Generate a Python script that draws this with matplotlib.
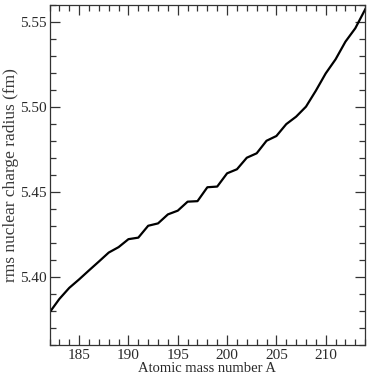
import matplotlib
matplotlib.use("Agg")
import matplotlib.pyplot as plt
from matplotlib.ticker import MultipleLocator

# rms charge radius vs mass number
mass_number = list(range(182, 215))
rms_radius = [5.3790, 5.3870, 5.3935, 5.3985, 5.4038, 5.4090, 5.4143, 5.4175,
              5.4222, 5.4231, 5.4301, 5.4315, 5.4368, 5.4390, 5.4443, 5.4446,
              5.4528, 5.4532, 5.4610, 5.4634, 5.4702, 5.4728, 5.4802, 5.4830,
              5.4900, 5.4944, 5.5003, 5.5097, 5.5199, 5.5282, 5.5386, 5.5465,
              5.5576]

plt.rcParams['font.family'] = ['Liberation Serif', 'DejaVu Serif']
text_col = '#2a2a2a'

fig = plt.figure(figsize=(3.67, 3.83), dpi=100)
ax = fig.add_axes([0.135, 0.1, 0.86, 0.886])

ax.plot(mass_number, rms_radius, color='black', lw=1.6)

ax.set_xlim(182, 214)
ax.set_ylim(5.36, 5.56)
ax.xaxis.set_major_locator(MultipleLocator(5))
ax.xaxis.set_minor_locator(MultipleLocator(1))
ax.yaxis.set_major_locator(MultipleLocator(0.05))
ax.yaxis.set_minor_locator(MultipleLocator(0.01))
ax.yaxis.set_major_formatter(lambda v, p: f"{v:.2f}")

ax.tick_params(which='both', direction='in', top=True, right=True,
               color='#333333', labelcolor=text_col, labelsize=11)
ax.tick_params(which='major', length=7, width=0.9)
ax.tick_params(which='minor', length=4, width=0.9)
ax.tick_params(axis='y', pad=2)
ax.tick_params(axis='x', pad=3)

for sp in ax.spines.values():
    sp.set_color('#333333')
    sp.set_linewidth(0.9)

ax.set_xlabel("Atomic mass number A", fontsize=10.5, color=text_col, labelpad=0)
ax.set_ylabel("rms nuclear charge radius (fm)", fontsize=12.5, color='#3a3a3a',
              labelpad=1)

fig.savefig("out.png", dpi=100)
